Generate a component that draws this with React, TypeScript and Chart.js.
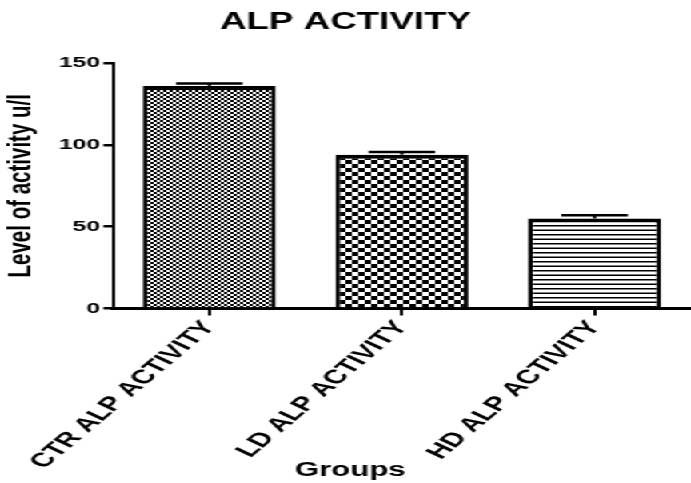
import React, { useEffect, useRef } from "react";
import { Chart, registerables } from "chart.js";

Chart.register(...registerables);

// Chart content
const chartTitle = "ALP ACTIVITY";
const groups = ["CTR ALP ACTIVITY", "LD ALP ACTIVITY", "HD ALP ACTIVITY"];
const meanActivity = [136, 94, 55];
const semActivity = [1.5, 1.6, 2];
const yTicks = [0, 50, 100, 150];
const yAxisTitle = "Level of activity u/l";
const xAxisTitle = "Groups";

// The figure is drawn on a narrower canvas and widened horizontally.
const PAGE_W = 691;
const PAGE_H = 483;
const BASE_W = 432;
const STRETCH = PAGE_W / BASE_W;

const FONT = "'Liberation Sans', Arial, Helvetica, sans-serif";

type PatternKind = "fineCheck" | "check" | "hlines";

function makePattern(kind: PatternKind): CanvasPattern | string {
  const c = document.createElement("canvas");
  const g = c.getContext("2d");
  if (!g) return "#888";
  if (kind === "fineCheck") {
    c.width = 4;
    c.height = 4;
    g.fillStyle = "#fff";
    g.fillRect(0, 0, 4, 4);
    g.fillStyle = "#000";
    g.fillRect(0, 0, 2, 2);
    g.fillRect(2, 2, 2, 2);
  } else if (kind === "check") {
    c.width = 8;
    c.height = 8;
    g.fillStyle = "#fff";
    g.fillRect(0, 0, 8, 8);
    g.fillStyle = "#000";
    g.fillRect(0, 0, 4, 4);
    g.fillRect(4, 4, 4, 4);
  } else {
    c.width = 8;
    c.height = 9;
    g.fillStyle = "#fff";
    g.fillRect(0, 0, 8, 9);
    g.fillStyle = "#000";
    g.fillRect(0, 0, 8, 1.5);
    g.fillRect(0, 4.5, 8, 1.5);
  }
  return g.createPattern(c, "repeat") || "#888";
}

// Upper error whisker with a cap on each bar
const errorBarsPlugin = {
  id: "errorBars",
  afterDatasetsDraw(chart: any) {
    const meta = chart.getDatasetMeta(0);
    const yScale = chart.scales.y;
    const ctx = chart.ctx as CanvasRenderingContext2D;
    ctx.save();
    ctx.strokeStyle = "#000";
    meta.data.forEach((bar: any, i: number) => {
      const top = yScale.getPixelForValue(meanActivity[i] + semActivity[i]);
      const half = bar.width * 0.25;
      ctx.lineWidth = 2;
      ctx.beginPath();
      ctx.moveTo(bar.x, bar.y);
      ctx.lineTo(bar.x, top);
      ctx.stroke();
      ctx.lineWidth = 2.5;
      ctx.beginPath();
      ctx.moveTo(bar.x - half, top);
      ctx.lineTo(bar.x + half, top);
      ctx.stroke();
    });
    ctx.restore();
  },
};

// Bottom axis caption
const groupsCaptionPlugin = {
  id: "groupsCaption",
  afterDraw(chart: any) {
    const ctx = chart.ctx as CanvasRenderingContext2D;
    ctx.save();
    ctx.fillStyle = "#000";
    ctx.font = `bold 19.5px ${FONT}`;
    ctx.textAlign = "center";
    ctx.textBaseline = "alphabetic";
    ctx.fillText(xAxisTitle, chart.width / 2 + 3, 476);
    ctx.restore();
  },
};

export default function App() {
  const canvasRef = useRef<HTMLCanvasElement | null>(null);

  useEffect(() => {
    if (!canvasRef.current) return;
    Chart.defaults.font.family = FONT;
    const fills = [makePattern("fineCheck"), makePattern("check"), makePattern("hlines")];

    const chart = new Chart(canvasRef.current, {
      type: "bar",
      data: {
        labels: groups,
        datasets: [
          {
            data: meanActivity,
            backgroundColor: fills as any,
            borderColor: "#000",
            borderWidth: { top: 4, left: 3, right: 3, bottom: 0 },
            borderSkipped: "start",
            barPercentage: 0.69,
            categoryPercentage: 1,
          },
        ],
      },
      options: {
        animation: false,
        responsive: true,
        maintainAspectRatio: false,
        devicePixelRatio: 1,
        layout: { padding: 0 },
        plugins: {
          legend: { display: false },
          tooltip: { enabled: false },
          title: {
            display: true,
            text: chartTitle,
            color: "#000",
            font: { size: 23, weight: "bold", family: FONT },
            padding: { top: 8.7, bottom: 26.7 },
          },
        },
        scales: {
          x: {
            grid: {
              display: true,
              drawOnChartArea: false,
              drawTicks: true,
              tickLength: 7,
              lineWidth: 2,
              color: "#000",
              offset: false,
            },
            border: { display: true, color: "#000", width: 3 },
            ticks: {
              color: "#000",
              font: { size: 19.5, weight: "bold", family: FONT },
              minRotation: 53,
              maxRotation: 53,
              padding: 1,
              autoSkip: false,
            },
            afterFit: (s: any) => {
              s.height = PAGE_H - 308.5;
            },
          },
          y: {
            min: 0,
            max: 150,
            afterBuildTicks: (s: any) => {
              s.ticks = yTicks.map((v) => ({ value: v }));
            },
            ticks: {
              color: "#000",
              font: { size: 15.5, weight: "bold", family: FONT },
              padding: 2,
            },
            grid: {
              drawOnChartArea: false,
              tickLength: 6,
              lineWidth: 2.5,
              color: "#000",
            },
            border: { display: true, color: "#000", width: 2 },
            title: {
              display: true,
              text: yAxisTitle,
              color: "#000",
              font: { size: 20.5, weight: "bold", family: FONT },
              padding: { top: 1.5, bottom: 0 },
            },
            afterFit: (s: any) => {
              s.width = 70.6;
            },
          },
        },
      },
      plugins: [errorBarsPlugin, groupsCaptionPlugin],
    });

    return () => chart.destroy();
  }, []);

  return (
    <div
      style={{
        position: "fixed",
        left: 0,
        top: 0,
        width: BASE_W,
        height: PAGE_H,
        transform: `scaleX(${STRETCH})`,
        transformOrigin: "0 0",
        background: "#fff",
      }}
    >
      <canvas ref={canvasRef} />
    </div>
  );
}
